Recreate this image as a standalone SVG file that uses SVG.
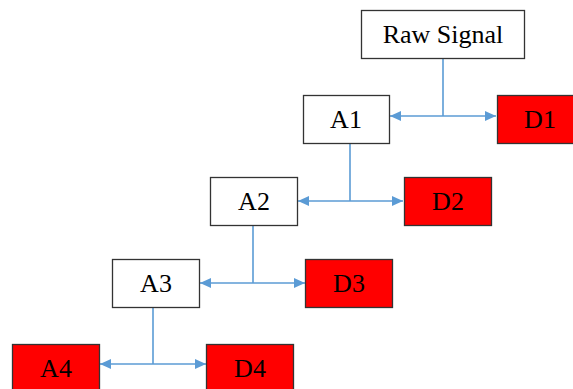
<svg xmlns="http://www.w3.org/2000/svg" width="573" height="389" viewBox="0 0 573 389">
<style>
.box{stroke:#333;stroke-width:1.3}
.w{fill:#fff}
.r{fill:#ff0000}
text{font-family:"Liberation Serif","Times New Roman",serif;font-size:26px;fill:#000;text-anchor:middle}
.c{fill:none;stroke:#5B9BD5;stroke-width:1.6}
</style>
<defs>
<marker id="ah" markerUnits="userSpaceOnUse" markerWidth="12" markerHeight="12" refX="11" refY="5" orient="auto">
<path d="M0,0 L11,5 L0,10 Z" fill="#5B9BD5"/>
</marker>
</defs>
<rect width="573" height="389" fill="#fff"/>
<g id="connectors">
<path class="c" d="M443,58 V116"/>
<path class="c" d="M443,116 H390" marker-end="url(#ah)"/>
<path class="c" d="M443,116 H496" marker-end="url(#ah)"/>
<path class="c" d="M350,143 V201"/>
<path class="c" d="M350,201 H298" marker-end="url(#ah)"/>
<path class="c" d="M350,201 H403" marker-end="url(#ah)"/>
<path class="c" d="M253,225 V283"/>
<path class="c" d="M253,283 H200" marker-end="url(#ah)"/>
<path class="c" d="M253,283 H305" marker-end="url(#ah)"/>
<path class="c" d="M153,307 V364"/>
<path class="c" d="M153,364 H100" marker-end="url(#ah)"/>
<path class="c" d="M153,364 H206" marker-end="url(#ah)"/>
</g>
<g id="raw"><rect class="box w" x="361.5" y="10.5" width="163" height="48"/><text x="443" y="43">Raw Signal</text></g>
<g id="a1"><rect class="box w" x="303.5" y="95.5" width="86" height="48"/><text x="346" y="128">A1</text></g>
<g id="d1"><rect class="box r" x="497.5" y="95.5" width="87" height="48"/><text x="540" y="128">D1</text></g>
<g id="a2"><rect class="box w" x="210.5" y="177.5" width="87" height="48"/><text x="254" y="210">A2</text></g>
<g id="d2"><rect class="box r" x="404.5" y="177.5" width="87" height="48"/><text x="448" y="210">D2</text></g>
<g id="a3"><rect class="box w" x="112.5" y="259.5" width="87" height="48"/><text x="156" y="292">A3</text></g>
<g id="d3"><rect class="box r" x="305.5" y="259.5" width="87" height="48"/><text x="349" y="292">D3</text></g>
<g id="a4"><rect class="box r" x="12.5" y="344.5" width="87" height="48"/><text x="56" y="377">A4</text></g>
<g id="d4"><rect class="box r" x="206.5" y="344.5" width="87" height="48"/><text x="250" y="377">D4</text></g>
</svg>
